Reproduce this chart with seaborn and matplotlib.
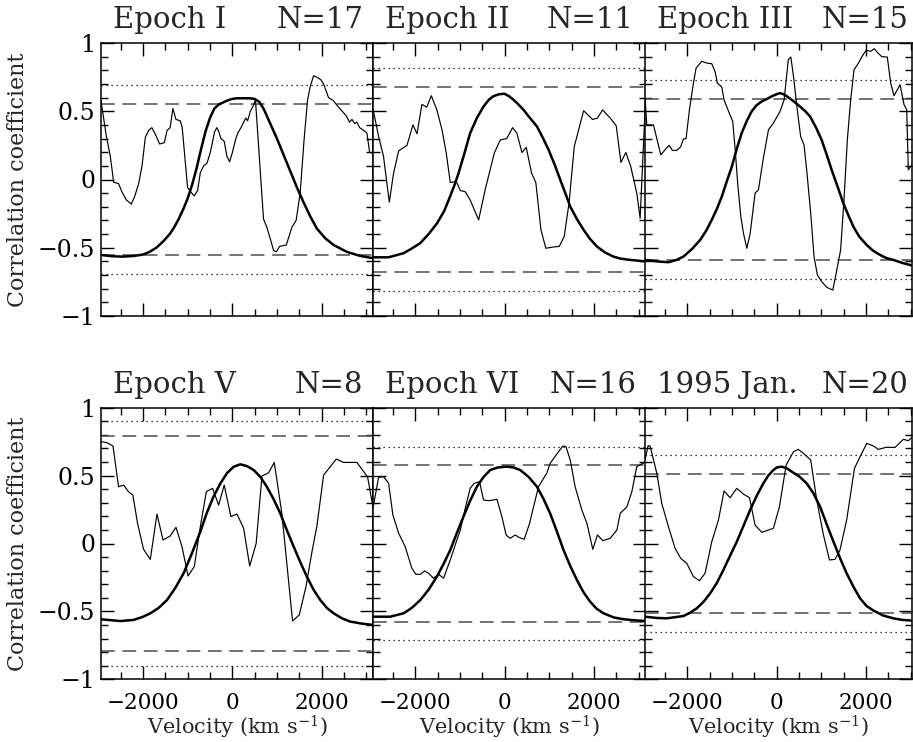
import numpy as np
import pandas as pd
import matplotlib
matplotlib.use("Agg")
import matplotlib.pyplot as plt
import seaborn as sns
from matplotlib.ticker import MultipleLocator

# ---------------------------------------------------------------- data
titles = ["Epoch I", "Epoch II", "Epoch III", "Epoch V", "Epoch VI", "1995 Jan."]
n_obs = [17, 11, 15, 8, 16, 20]
sig_dashed = [0.55, 0.68, 0.59, 0.79, 0.575, 0.515]
sig_dotted = [0.69, 0.82, 0.73, 0.905, 0.71, 0.65]

# model (thick) curves
model_vel_1 = [-2940, -2700, -2450, -2200, -2000, -1850, -1700, -1550, -1400, -1300, -1200, -1100, -1000, -900, -800, -700, -600, -500, -400, -300, -200, -100, 0, 100, 250, 400, 500, 600, 700, 850, 1000, 1150, 1300, 1450, 1600, 1745, 1895, 2080, 2270, 2565, 2865, 3160]
model_r_1 = [-0.553, -0.562, -0.565, -0.56, -0.55, -0.53, -0.50, -0.455, -0.40, -0.35, -0.29, -0.22, -0.14, -0.04, 0.08, 0.22, 0.35, 0.45, 0.52, 0.55, 0.565, 0.58, 0.59, 0.595, 0.595, 0.595, 0.59, 0.57, 0.52, 0.41, 0.30, 0.18, 0.06, -0.06, -0.17, -0.27, -0.36, -0.43, -0.48, -0.53, -0.56, -0.577]

model_vel_2 = [-2940, -2600, -2260, -2100, -1890, -1700, -1510, -1350, -1220, -1120, -1030, -900, -770, -620, -470, -350, -250, -120, 0, 100, 200, 310, 425, 570, 725, 850, 985, 1120, 1245, 1360, 1470, 1620, 1770, 1900, 2065, 2250, 2440, 2600, 2810, 3160]
model_r_2 = [-0.57, -0.57, -0.54, -0.51, -0.467, -0.40, -0.32, -0.23, -0.125, -0.04, 0.046, 0.19, 0.34, 0.45, 0.535, 0.585, 0.61, 0.625, 0.628, 0.61, 0.584, 0.55, 0.51, 0.45, 0.389, 0.31, 0.218, 0.11, 0.0, -0.10, -0.198, -0.29, -0.369, -0.43, -0.49, -0.535, -0.565, -0.58, -0.589, -0.60]

model_vel_3 = [-2945, -2690, -2425, -2250, -2090, -1900, -1715, -1580, -1455, -1340, -1230, -1120, -1005, -900, -785, -670, -560, -450, -335, -220, -110, 0, 75, 150, 225, 370, 520, 640, 745, 880, 1005, 1120, 1230, 1360, 1490, 1600, 1715, 1850, 2015, 2150, 2315, 2450, 2610, 2800, 3030]
model_r_3 = [-0.589, -0.60, -0.606, -0.59, -0.565, -0.51, -0.443, -0.375, -0.296, -0.215, -0.125, -0.015, 0.095, 0.22, 0.34, 0.43, 0.50, 0.545, 0.572, 0.59, 0.61, 0.625, 0.633, 0.625, 0.61, 0.575, 0.535, 0.50, 0.462, 0.38, 0.29, 0.18, 0.07, -0.05, -0.174, -0.26, -0.345, -0.42, -0.48, -0.52, -0.553, -0.575, -0.589, -0.61, -0.63]

model_vel_4 = [-2940, -2505, -2210, -2000, -1835, -1650, -1460, -1280, -1090, -900, -715, -570, -420, -270, -120, 30, 180, 330, 480, 630, 775, 920, 1075, 1220, 1375, 1520, 1670, 1820, 1970, 2120, 2270, 2450, 2640, 2900, 3160]
model_r_4 = [-0.558, -0.571, -0.563, -0.54, -0.514, -0.475, -0.416, -0.33, -0.22, -0.07, 0.087, 0.225, 0.345, 0.44, 0.517, 0.565, 0.583, 0.57, 0.541, 0.49, 0.418, 0.33, 0.222, 0.10, -0.023, -0.135, -0.244, -0.34, -0.416, -0.475, -0.514, -0.55, -0.575, -0.59, -0.60]

model_vel_5 = [-2940, -2560, -2260, -2080, -1885, -1700, -1515, -1365, -1215, -1070, -920, -770, -620, -470, -320, -150, 50, 200, 350, 540, 725, 870, 1020, 1170, 1320, 1470, 1620, 1770, 1915, 2060, 2215, 2450, 2665, 2900, 3160]
model_r_5 = [-0.539, -0.539, -0.514, -0.475, -0.416, -0.34, -0.244, -0.15, -0.048, 0.075, 0.198, 0.315, 0.418, 0.49, 0.541, 0.56, 0.566, 0.56, 0.541, 0.49, 0.418, 0.33, 0.222, 0.09, -0.048, -0.165, -0.269, -0.36, -0.428, -0.48, -0.514, -0.545, -0.558, -0.565, -0.571]

model_vel_6 = [-2945, -2700, -2460, -2090, -1940, -1790, -1640, -1490, -1340, -1195, -1045, -895, -745, -595, -450, -300, -190, -75, 0, 110, 220, 335, 500, 670, 820, 970, 1120, 1270, 1420, 1565, 1720, 1865, 2010, 2165, 2380, 2610, 2800, 3030]
model_r_6 = [-0.539, -0.548, -0.551, -0.534, -0.51, -0.477, -0.43, -0.367, -0.29, -0.195, -0.09, 0.013, 0.13, 0.247, 0.35, 0.443, 0.50, 0.541, 0.56, 0.566, 0.555, 0.529, 0.495, 0.443, 0.37, 0.271, 0.14, 0.013, -0.11, -0.22, -0.32, -0.404, -0.46, -0.494, -0.53, -0.551, -0.562, -0.568]

# measured (thin) correlation curves
corr_vel_1 = [-2940, -2820, -2730, -2655, -2545, -2470, -2370, -2260, -2185, -2095, -2020, -1945, -1870, -1800, -1720, -1625, -1520, -1460, -1390, -1330, -1260, -1165, -1120, -1000, -905, -850, -775, -715, -640, -565, -490, -395, -345, -300, -255, -180, -120, -60, 5, 80, 125, 195, 255, 305, 345, 405, 455, 520, 700, 775, 865, 925, 985, 1060, 1210, 1335, 1430, 1520, 1610, 1685, 1745, 1820, 1895, 1985, 2045, 2155, 2255, 2380, 2490, 2565, 2625, 2680, 2740, 2790, 2850, 2940, 3015, 3075, 3160]
corr_r_1 = [0.58, 0.32, 0.17, -0.02, -0.03, -0.09, -0.15, -0.18, -0.125, -0.03, 0.10, 0.31, 0.36, 0.38, 0.33, 0.26, 0.27, 0.36, 0.38, 0.52, 0.44, 0.43, 0.38, -0.06, -0.10, -0.12, -0.08, 0.05, 0.10, 0.12, 0.20, 0.35, 0.38, 0.35, 0.30, 0.28, 0.17, 0.13, 0.20, 0.30, 0.34, 0.38, 0.42, 0.45, 0.43, 0.50, 0.53, 0.58, -0.29, -0.35, -0.45, -0.52, -0.53, -0.49, -0.48, -0.35, -0.30, -0.10, 0.30, 0.58, 0.68, 0.76, 0.75, 0.73, 0.70, 0.60, 0.58, 0.53, 0.49, 0.46, 0.42, 0.44, 0.41, 0.42, 0.38, 0.36, 0.34, 0.20, 0.19]

corr_vel_2 = [-2940, -2820, -2710, -2580, -2485, -2370, -2185, -2050, -1960, -1850, -1740, -1640, -1515, -1400, -1305, -1215, -1080, -990, -880, -770, -580, -435, -230, -95, 50, 180, 275, 390, 485, 605, 700, 815, 925, 1060, 1225, 1335, 1445, 1560, 1770, 1970, 2080, 2195, 2365, 2500, 2605, 2715, 2825, 2960, 3035, 3160]
corr_r_2 = [0.51, 0.315, 0.17, -0.166, 0.046, 0.21, 0.25, 0.40, 0.335, 0.55, 0.53, 0.614, 0.51, 0.364, 0.193, -0.022, -0.015, -0.08, -0.09, -0.15, -0.296, -0.076, 0.193, 0.29, 0.30, 0.38, 0.34, 0.198, 0.235, 0.046, -0.022, -0.37, -0.504, -0.496, -0.49, -0.418, -0.17, 0.24, 0.504, 0.44, 0.45, 0.51, 0.45, 0.394, 0.125, 0.198, 0.095, -0.10, -0.284, 0.61]

corr_vel_3 = [-2945, -2910, -2760, -2595, -2500, -2410, -2335, -2240, -2150, -2090, -2030, -1955, -1865, -1805, -1680, -1565, -1455, -1380, -1330, -1230, -1180, -1080, -985, -930, -875, -805, -745, -670, -595, -485, -410, -300, -185, -75, 75, 165, 260, 315, 375, 450, 535, 610, 670, 760, 835, 910, 1005, 1120, 1255, 1330, 1430, 1505, 1580, 1655, 1730, 1830, 1900, 2000, 2105, 2185, 2255, 2350, 2475, 2550, 2625, 2760, 2850, 2910, 2945, 3030]
corr_r_3 = [0.584, 0.40, 0.40, 0.18, 0.218, 0.25, 0.213, 0.213, 0.24, 0.296, 0.30, 0.51, 0.707, 0.817, 0.866, 0.853, 0.848, 0.79, 0.707, 0.677, 0.584, 0.50, 0.425, 0.218, -0.027, -0.27, -0.394, -0.504, -0.394, -0.10, -0.076, 0.157, 0.364, 0.413, 0.50, 0.584, 0.88, 0.897, 0.755, 0.535, 0.315, 0.254, 0.07, -0.247, -0.565, -0.70, -0.748, -0.79, -0.81, -0.687, -0.516, -0.15, 0.29, 0.584, 0.804, 0.853, 0.897, 0.946, 0.939, 0.958, 0.93, 0.90, 0.897, 0.707, 0.614, 0.694, 0.548, 0.51, 0.071, 0.11]

corr_vel_4 = [-2940, -2805, -2670, -2545, -2430, -2320, -2225, -2120, -1985, -1835, -1685, -1550, -1390, -1260, -1125, -990, -850, -715, -580, -440, -305, -180, -30, 105, 255, 390, 535, 665, 815, 940, 1110, 1350, 1500, 1650, 1785, 1895, 2045, 2330, 2490, 2790, 3030, 3160]
corr_r_4 = [0.75, 0.742, 0.718, 0.418, 0.43, 0.38, 0.357, 0.148, -0.043, -0.117, 0.217, 0.026, 0.055, 0.119, -0.023, -0.239, -0.17, 0.124, 0.382, 0.406, 0.283, 0.43, 0.198, 0.217, 0.112, -0.166, 0.0, 0.497, 0.521, 0.597, 0.222, -0.571, -0.526, -0.318, -0.06, 0.129, 0.504, 0.622, 0.597, 0.597, 0.49, 0.25]

corr_vel_5 = [-2940, -2820, -2710, -2595, -2500, -2370, -2225, -2075, -1985, -1885, -1790, -1700, -1590, -1475, -1365, -1215, -1080, -990, -880, -770, -680, -560, -470, -360, -170, -60, 35, 125, 240, 315, 440, 560, 650, 760, 850, 945, 1020, 1155, 1305, 1375, 1470, 1580, 1730, 1845, 1975, 2080, 2200, 2365, 2515, 2590, 2740, 2850, 2960, 3160]
corr_r_5 = [0.271, 0.487, 0.492, 0.443, 0.21, 0.075, -0.023, -0.183, -0.227, -0.227, -0.202, -0.22, -0.256, -0.227, -0.256, -0.121, 0.013, 0.099, 0.259, 0.406, 0.443, 0.455, 0.32, 0.315, 0.325, 0.198, 0.063, 0.038, 0.063, 0.046, 0.031, 0.148, 0.271, 0.418, 0.467, 0.517, 0.59, 0.652, 0.718, 0.713, 0.615, 0.418, 0.247, 0.148, -0.043, 0.063, 0.021, 0.038, 0.099, 0.222, 0.271, 0.382, 0.566, 0.602]

corr_vel_6 = [-2945, -2880, -2835, -2685, -2575, -2425, -2275, -2150, -2015, -1865, -1730, -1605, -1455, -1305, -1180, -1045, -895, -745, -610, -485, -335, -75, 60, 210, 375, 485, 595, 760, 895, 1045, 1180, 1305, 1415, 1565, 1740, 1865, 2015, 2165, 2275, 2445, 2650, 2835, 2945, 3030]
corr_r_6 = [0.62, 0.72, 0.718, 0.517, 0.296, 0.124, -0.036, -0.109, -0.146, -0.244, -0.274, -0.22, 0.013, 0.173, 0.387, 0.337, 0.406, 0.364, 0.337, 0.136, 0.082, 0.112, 0.271, 0.578, 0.676, 0.693, 0.664, 0.615, 0.32, 0.063, -0.121, -0.117, -0.048, 0.173, 0.553, 0.639, 0.737, 0.718, 0.693, 0.708, 0.708, 0.767, 0.757, 0.782]

model_vel = [model_vel_1, model_vel_2, model_vel_3, model_vel_4, model_vel_5, model_vel_6]
model_r = [model_r_1, model_r_2, model_r_3, model_r_4, model_r_5, model_r_6]
corr_vel = [corr_vel_1, corr_vel_2, corr_vel_3, corr_vel_4, corr_vel_5, corr_vel_6]
corr_r = [corr_r_1, corr_r_2, corr_r_3, corr_r_4, corr_r_5, corr_r_6]

x_ticks = [-2000, 0, 2000]
y_ticks = [-1, -0.5, 0, 0.5, 1]

# ---------------------------------------------------------------- style
sns.set_theme(style="ticks")
plt.rcParams.update({
    "font.family": ["DejaVu Serif"],
    "mathtext.fontset": "dejavuserif",
    "axes.linewidth": 1.1,
    "axes.edgecolor": "black",
    "xtick.color": "black",
    "ytick.color": "black",
    "lines.solid_joinstyle": "round",
})

W, H = 913, 742
fig = plt.figure(figsize=(W / 100, H / 100), dpi=100)
fig.patch.set_facecolor("white")

px_per_kms = 44.67 / 1000.0
x_lo = -2945
x_hi = [3160, 3160, 3030]
col_left = [100.7, 373.0, 645.2]
row_top = [43.0, 407.7]
row_h = [273.0, 271.6]
right_pad = [10, 12, 4, 10, 9, 4]

for i in range(6):
    r, c = divmod(i, 3)
    width_px = (x_hi[c] - x_lo) * px_per_kms
    ax = fig.add_axes([col_left[c] / W, 1 - (row_top[r] + row_h[r]) / H,
                       width_px / W, row_h[r] / H])
    ax.set_facecolor("white")

    lev_d, lev_o = sig_dashed[i], sig_dotted[i]
    for s in (1, -1):
        ax.axhline(s * lev_d, color="0.3", lw=1.1, ls=(0, (9, 5)), zorder=1)
        ax.axhline(s * lev_o, color="black", lw=0.9, ls=(0, (1, 3)), zorder=1)

    sns.lineplot(x=corr_vel[i], y=corr_r[i], ax=ax, color="black", lw=0.85,
                 sort=False, estimator=None, zorder=3)
    sns.lineplot(x=model_vel[i], y=model_r[i], ax=ax, color="black", lw=1.8,
                 sort=False, estimator=None, zorder=4)

    ax.set_xlim(x_lo, x_hi[c])
    ax.set_ylim(-1, 1)
    ax.xaxis.set_major_locator(MultipleLocator(2000))
    ax.xaxis.set_minor_locator(MultipleLocator(500))
    ax.yaxis.set_major_locator(MultipleLocator(0.5))
    ax.yaxis.set_minor_locator(MultipleLocator(0.1))
    ax.tick_params(which="both", direction="in", top=True, right=True, width=1.0)
    ax.tick_params(which="major", length=9.5)
    ax.tick_params(which="minor", length=5)
    ax.tick_params(axis="y", pad=4, labelsize=17)
    ax.tick_params(axis="x", pad=9, labelsize=15.5)

    if c == 0:
        ax.set_yticks(y_ticks)
        ax.set_yticklabels(["\u22121", "\u22120.5", "0", "0.5", "1"])
        ax.set_ylabel("Correlation coefficient", fontsize=16)
        ax.yaxis.set_label_coords(-0.262, 0.5)
    else:
        ax.set_yticklabels([])
        ax.set_ylabel("")
    if r == 1:
        ax.set_xticks(x_ticks)
        ax.set_xticklabels(["\u22122000", "0", "2000"])
        ax.set_xlabel("Velocity (km s$^{-1}$)", fontsize=15)
        ax.xaxis.set_label_coords(0.5, -0.128)
    else:
        ax.set_xticklabels([])
        ax.set_xlabel("")

    ax.annotate(titles[i], xy=(0, 1), xycoords="axes fraction",
                xytext=(12 * 0.72, 15 * 0.72), textcoords="offset points",
                ha="left", va="baseline", fontsize=21)
    ax.annotate(f"N={n_obs[i]}", xy=(1, 1), xycoords="axes fraction",
                xytext=(-right_pad[i] * 0.72, 15 * 0.72), textcoords="offset points",
                ha="right", va="baseline", fontsize=21)

fig.savefig("out.png", dpi=100, facecolor="white")
